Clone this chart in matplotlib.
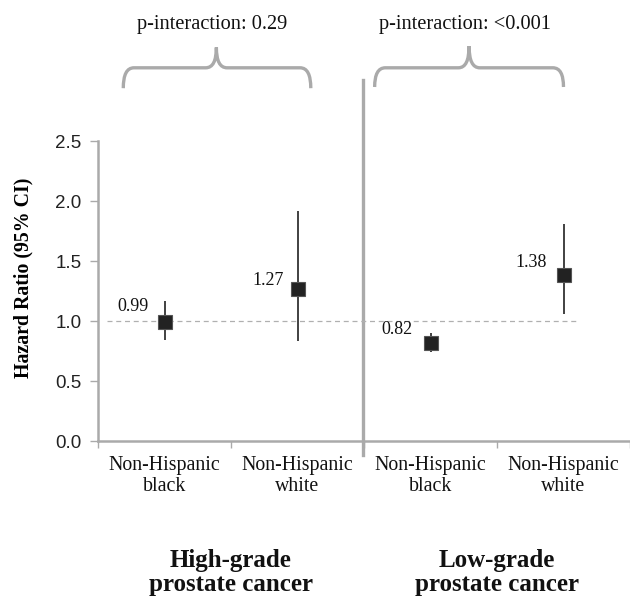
import matplotlib
matplotlib.use("Agg")
import matplotlib.pyplot as plt
from matplotlib.path import Path
from matplotlib.patches import PathPatch
import numpy as np

categories = ["Non-Hispanic\nblack", "Non-Hispanic\nwhite", "Non-Hispanic\nblack", "Non-Hispanic\nwhite"]
hr = [0.99, 1.27, 0.82, 1.38]
ci_low = [0.84, 0.83, 0.74, 1.06]
ci_high = [1.17, 1.92, 0.90, 1.81]
hr_labels = ["0.99", "1.27", "0.82", "1.38"]
groups = ["High-grade\nprostate cancer", "Low-grade\nprostate cancer"]
p_labels = ["p-interaction: 0.29", "p-interaction: <0.001"]
yticks = [0.0, 0.5, 1.0, 1.5, 2.0, 2.5]

# label offsets (pixels) relative to markers
label_offsets = [(-31, 16), (-29, 8), (-34, 13), (-32, 13)]

SERIF = ["Liberation Serif", "DejaVu Serif"]
SANS = ["Liberation Sans", "DejaVu Sans"]
GRAY = "#aaaaaa"

fig = plt.figure(figsize=(6.30, 5.98), dpi=100)
W, H = 630, 598
ax = fig.add_axes([98 / W, (598 - 441) / H, (630 - 98) / W, 300 / H])
x = np.arange(len(hr))
ax.set_xlim(-0.5, -0.5 + 532 / 134)
ax.set_ylim(0, 2.5)

# reference line
ax.plot([-0.43, 3.12], [1.0, 1.0], ls=(0, (4, 3)), color="#b0b0b0", lw=0.9, zorder=1)

# error bars and markers
ax.vlines(x, ci_low, ci_high, color="#333333", lw=1.3, zorder=2)
ax.plot(x, hr, ls="none", marker="s", ms=10.5, mfc="#222222", mec="#555555", mew=0.8, zorder=3)

for xi, v, lab, off in zip(x, hr, hr_labels, label_offsets):
    ax.annotate(lab, (xi, v), xytext=off, textcoords="offset pixels",
                ha="center", va="center", fontsize=13, family=SERIF, color="#111111")

# spines
for s in ["top", "right"]:
    ax.spines[s].set_visible(False)
for s in ["left", "bottom"]:
    ax.spines[s].set_color(GRAY)
    ax.spines[s].set_linewidth(1.8)

ax.set_yticks(yticks)
ax.set_yticklabels([f"{t:.1f}" for t in yticks], family=SANS, fontsize=13.5, color="#222222")
ax.tick_params(axis="y", direction="out", length=6, width=1, color=GRAY, pad=6)

ax.set_xticks(np.arange(-0.5, len(hr), 1.0))
ax.set_xticklabels([])
ax.tick_params(axis="x", which="major", direction="out", length=5, width=1, color=GRAY)
ax.set_xticks(x, minor=True)
ax.set_xticklabels(categories, minor=True, family=SERIF, fontsize=14.3, color="#111111", linespacing=1.15)
ax.tick_params(axis="x", which="minor", length=0, pad=11)

ax.set_ylabel("Hazard Ratio (95% CI)", family=SERIF, fontweight="bold", fontsize=14.3)
ax.yaxis.set_label_coords(-0.122, 0.543)

# divider
ax.plot([1.49, 1.49], [-0.12, 3.01], color=GRAY, lw=2.4, clip_on=False, zorder=0)

# group labels
for gi, g in enumerate(groups):
    xc = 2 * gi + 0.5
    ax.text(xc, -0.9, g, ha="center", va="top", family=SERIF, fontweight="bold",
            fontsize=18, linespacing=1.08, color="#111111")

# braces
def brace(x0, x1, xc, ybot, ytop, ypeak):
    r = 0.08
    verts = [(x0, ybot), (x0, ytop), (x0 + r, ytop),
             (xc - r, ytop), (xc, ytop), (xc, ypeak),
             (xc, ytop), (xc + r, ytop),
             (x1 - r, ytop), (x1, ytop), (x1, ybot)]
    codes = [Path.MOVETO, Path.CURVE3, Path.CURVE3,
             Path.LINETO, Path.CURVE3, Path.CURVE3,
             Path.CURVE3, Path.CURVE3,
             Path.LINETO, Path.CURVE3, Path.CURVE3]
    p = PathPatch(Path(verts, codes), fill=False, ec=GRAY, lw=2.4, clip_on=False, capstyle="butt")
    ax.add_patch(p)

brace(-0.31, 1.10, 0.39, 2.94, 3.11, 3.28)
brace(1.58, 3.00, 2.29, 2.95, 3.11, 3.29)

for xc, t in zip([0.36, 2.26], p_labels):
    ax.text(xc, 3.47, t, ha="center", va="center", family=SERIF, fontsize=14.7, color="#111111")

fig.savefig("out.png", dpi=100)
